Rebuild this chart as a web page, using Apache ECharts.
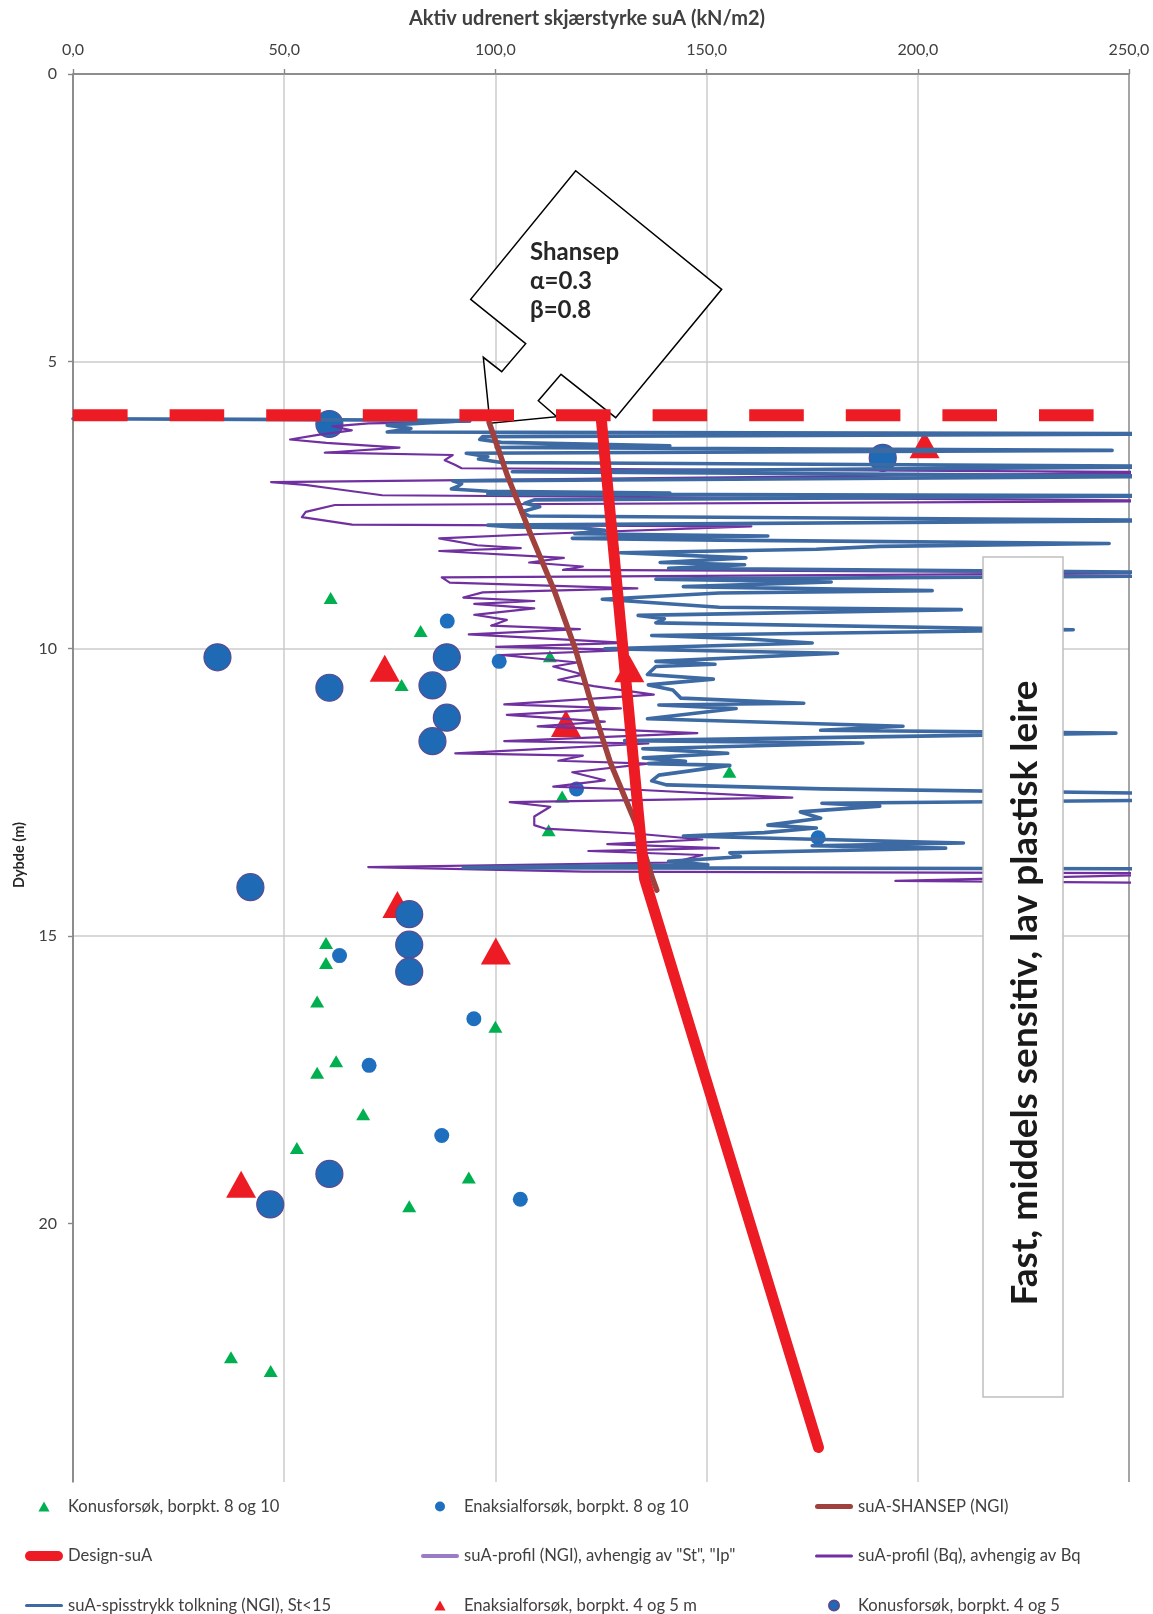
<!DOCTYPE html>
<html>
<head>
<meta charset="utf-8">
<script src="https://cdn.jsdelivr.net/npm/echarts@6/dist/echarts.min.js"></script>
<style>
  html, body { margin: 0; padding: 0; background: #ffffff; }
  #chart { width: 1153px; height: 1614px; }
</style>
</head>
<body>
<div id="chart"></div>
<script>
// Tick labels
const xTickLabels = [0, 50, 100, 150, 200, 250];
const yTickLabels = [0, 5, 10, 15, 20];

// Series names (legend text)
const NAME_KONUS_810 = 'Konusforsøk, borpkt. 8 og 10';
const NAME_ENAKS_810 = 'Enaksialforsøk, borpkt. 8 og 10';
const NAME_SHANSEP = 'suA-SHANSEP (NGI)';
const NAME_DESIGN = 'Design-suA';
const NAME_PROFIL_ST_IP = 'suA-profil (NGI), avhengig av "St", "Ip"';
const NAME_PROFIL_BQ = 'suA-profil (Bq), avhengig av Bq';
const NAME_SPISS = 'suA-spisstrykk tolkning (NGI), St<15';
const NAME_ENAKS_45 = 'Enaksialforsøk, borpkt. 4 og 5 m';
const NAME_KONUS_45 = 'Konusforsøk, borpkt. 4 og 5';

// [suA (kN/m2), depth (m)]
const konus810 = [[61.0, 9.12], [82.3, 9.69], [112.9, 10.13], [77.8, 10.63], [155.4, 12.14],
  [115.8, 12.57], [112.6, 13.16], [59.9, 15.12], [59.9, 15.47], [57.8, 16.14], [100.0, 16.58],
  [62.3, 17.18], [57.8, 17.38], [68.7, 18.1], [53.0, 18.69], [93.7, 19.2], [79.6, 19.7],
  [37.4, 22.33], [46.8, 22.57]];

const enaks810 = [[88.6, 9.52], [100.9, 10.22], [119.2, 12.44], [176.4, 13.29], [63.1, 15.34],
  [94.9, 16.44], [70.1, 17.25], [87.3, 18.47], [105.9, 19.58]];

const enaks45 = [[201.6, 6.45], [73.8, 10.34], [131.7, 10.35], [116.7, 11.3], [76.8, 14.45],
  [100.1, 15.26], [39.8, 19.32]];

const konus45 = [[60.7, 6.09], [191.7, 6.68], [34.2, 10.15], [88.5, 10.15], [60.7, 10.68],
  [85.1, 10.64], [88.5, 11.2], [85.1, 11.61], [42.0, 14.15], [79.6, 14.62], [79.6, 15.15],
  [79.6, 15.62], [60.7, 19.14], [46.7, 19.67]];

const shansep = [[98.5, 6.06], [102.9, 7.0], [108.3, 8.0], [114.0, 9.0], [118.9, 10.0],
  [122.9, 11.0], [127.3, 12.0], [133.0, 13.0], [137.2, 14.0], [138.2, 14.2]];

const designSuA = [[125.0, 5.95], [135.3, 14.0], [176.5, 23.9]];

// excavation level, drawn dashed in the Design-suA style
const designLevel = [[0, 5.94], [253, 5.94]];

const profilStIp = [];

const profilBq = [[94, 6.05], [70, 6.08], [61.4, 6.13], [66, 6.2], [58, 6.28], [51.4, 6.36],
  [60, 6.42], [77.3, 6.5], [59.6, 6.59], [89.9, 6.63], [88, 6.72], [90.4, 6.8], [92, 6.86],
  [270, 6.93], [46.9, 7.1], [55, 7.15], [60, 7.2], [73.2, 7.33], [270, 7.43], [62, 7.5],
  [55.1, 7.62], [54.2, 7.71], [66.1, 7.84], [160.6, 7.87], [111.7, 8.0], [86.7, 8.08],
  [95.7, 8.2], [106, 8.25], [86.7, 8.3], [116.2, 8.42], [108, 8.5], [120.7, 8.57], [116, 8.63],
  [270, 8.68], [179.3, 8.72], [87.3, 8.76], [89.2, 8.85], [133.6, 8.95], [97, 9.02], [92.4, 9.11],
  [109.2, 9.17], [95, 9.22], [109.2, 9.3], [95, 9.41], [102.7, 9.5], [99, 9.6], [120, 9.66],
  [93.7, 9.75], [131, 9.9], [100.2, 9.97], [132.3, 10.02], [101.4, 10.11], [119.4, 10.24],
  [113.7, 10.31], [120.7, 10.45], [114.9, 10.54], [123.3, 10.65], [137.5, 10.8], [102.1, 10.97],
  [129.7, 11.04], [102.7, 11.15], [125.9, 11.27], [110, 11.35], [147.8, 11.47], [102.1, 11.61],
  [136.2, 11.65], [90.5, 11.82], [120.7, 11.86], [114.9, 11.95], [136.2, 12.0], [118.2, 12.15],
  [125.9, 12.29], [113.7, 12.4], [132.3, 12.45], [170.3, 12.59], [103.4, 12.67], [113, 12.75],
  [109.2, 12.92], [109.2, 13.07], [111.7, 13.13], [133.6, 13.22], [149, 13.32], [126.5, 13.4],
  [152.9, 13.47], [122, 13.52], [149, 13.59], [142, 13.72], [69.9, 13.8], [120.7, 13.88],
  [270, 13.91], [194.7, 14.04], [270, 14.08]];

const spisstrykk = [[0, 6.0], [42, 6.01], [94, 6.03], [74.4, 6.11], [80, 6.17], [74.4, 6.23],
  [270, 6.26], [97, 6.31], [96.3, 6.36], [101.4, 6.41], [141.3, 6.47], [100.2, 6.5], [246, 6.55],
  [93.1, 6.6], [98.2, 6.66], [96, 6.7], [101.4, 6.76], [270, 6.83], [104, 6.92], [270, 7.0],
  [89.9, 7.08], [92, 7.13], [91.2, 7.17], [89.6, 7.22], [98.2, 7.26], [141.3, 7.29], [98.2, 7.31],
  [270, 7.34], [109.2, 7.41], [107, 7.47], [110.5, 7.53], [106, 7.62], [108, 7.69], [270, 7.77],
  [98.2, 7.85], [104, 7.88], [120.7, 7.9], [125.9, 7.94], [118.8, 8.0], [164.5, 8.04], [118.2, 8.08],
  [152.9, 8.11], [245.3, 8.17], [191, 8.22], [176, 8.27], [129.6, 8.33], [159.3, 8.42], [139, 8.5],
  [159, 8.54], [141, 8.6], [270, 8.68], [270, 8.73], [138, 8.79], [179.5, 8.84], [144.5, 8.92],
  [203.4, 8.99], [153, 9.03], [125.3, 9.14], [153, 9.28], [210.3, 9.32], [133.8, 9.42], [140, 9.48],
  [138, 9.55], [236.8, 9.67], [137, 9.77], [160, 9.83], [175, 9.9], [125.9, 10.0], [181, 10.08],
  [138, 10.22], [152, 10.27], [138, 10.31], [136, 10.45], [151.6, 10.53], [136.2, 10.63],
  [142, 10.72], [143.9, 10.86], [173, 10.95], [138.7, 10.98], [157, 11.04], [136, 11.22],
  [196.5, 11.35], [177, 11.42], [246.9, 11.47], [130.6, 11.6], [187, 11.64], [134.9, 11.74],
  [155, 11.82], [135, 11.9], [145, 11.96], [136.2, 12.0], [155.5, 12.03], [138.7, 12.2],
  [137, 12.3], [140.6, 12.37], [177.4, 12.44], [270, 12.53], [270, 12.63], [177.3, 12.69],
  [191, 12.74], [172.2, 12.84], [177, 12.95], [164.5, 13.07], [176, 13.12], [163.6, 13.2],
  [144.5, 13.26], [210.8, 13.38], [175, 13.43], [206.6, 13.47], [155.5, 13.55], [158, 13.62],
  [141, 13.7], [150.3, 13.76], [92.4, 13.81], [270, 13.83], [270, 13.87]];

const FONT = 'Lato, "Noto Sans", sans-serif';
const GRID_DARK = '#878787';
const GRID_LIGHT = '#cbcbcb';
const gridColors = [GRID_DARK, GRID_LIGHT, GRID_LIGHT, GRID_LIGHT, GRID_LIGHT];

// legend icon for a line series: a bar of thickness t with rounded ends, 38 px long
function barIcon(t) {
  const r = t / 2, L = 38;
  return 'path://M' + r + ',0 L' + (L - r) + ',0 A' + r + ',' + r + ' 0 0 1 ' + (L - r) + ',' + t +
    ' L' + r + ',' + t + ' A' + r + ',' + r + ' 0 0 1 ' + r + ',0 Z';
}
// small upright triangle legend icon
const TRIANGLE_ICON = 'path://M5,0 L10,9 L0,9 Z';

const chart = echarts.init(document.getElementById('chart'), null, { renderer: 'canvas' });

const lineSeries = (name, data, color, width, extra) => Object.assign({
  name, type: 'line', data, symbol: 'none', showSymbol: false, smooth: false,
  lineStyle: { color, width, cap: 'round', join: 'round' },
  itemStyle: { color, borderWidth: 0 },
  emphasis: { disabled: true }
}, extra || {});

const scatterSeries = (name, data, symbol, size, itemStyle) => ({
  name, type: 'scatter', data, symbol, symbolSize: size,
  itemStyle: Object.assign({ opacity: 1 }, itemStyle),
  emphasis: { disabled: true }
});

const legendBase = {
  type: 'plain', orient: 'vertical', top: 1498, padding: 0, itemGap: 32.5,
  itemWidth: 38, itemHeight: 10, symbolKeepAspect: true,
  textStyle: { fontFamily: FONT, fontSize: 16.6, color: '#404040', lineHeight: 16 }
};

chart.setOption({
  animation: false,
  backgroundColor: '#ffffff',
  textStyle: { fontFamily: FONT },
  grid: { left: 73, right: 24, top: 74, bottom: 132, containLabel: false },
  xAxis: {
    type: 'value', position: 'top', min: 0, max: 250, interval: 10,
    name: 'Aktiv udrenert skjærstyrke suA (kN/m2)', nameLocation: 'middle', nameGap: 45,
    nameTextStyle: {
      fontFamily: FONT, fontSize: 20, fontWeight: 'bold', color: '#404040', padding: [0, 28, 0, 0]
    },
    axisLine: { show: true, lineStyle: { color: GRID_DARK, width: 1.6 } },
    axisTick: { show: true, customValues: xTickLabels, length: 5, lineStyle: { color: GRID_DARK, width: 1.4 } },
    axisLabel: {
      customValues: xTickLabels, margin: 16, fontFamily: FONT, fontSize: 16, color: '#404040',
      formatter: v => v.toFixed(1).replace('.', ',')
    },
    splitLine: { show: true, lineStyle: { color: gridColors, width: 1.5 } }
  },
  yAxis: {
    type: 'value', inverse: true, min: 0, max: 24.5, interval: 1,
    axisLine: { show: true, lineStyle: { color: GRID_DARK, width: 1.6 } },
    axisTick: { show: true, customValues: yTickLabels, length: 5, lineStyle: { color: GRID_DARK, width: 1.4 } },
    axisLabel: { customValues: yTickLabels, margin: 16, fontFamily: FONT, fontSize: 16, color: '#404040' },
    splitLine: { show: true, showMaxLine: false, lineStyle: { color: gridColors, width: 1.5 } }
  },
  legend: [
    Object.assign({ left: 25, data: [
      { name: NAME_KONUS_810, icon: TRIANGLE_ICON },
      { name: NAME_DESIGN, icon: barIcon(10) },
      { name: NAME_SPISS, icon: barIcon(3) }
    ] }, legendBase),
    Object.assign({ left: 421, data: [
      { name: NAME_ENAKS_810, icon: 'circle' },
      { name: NAME_PROFIL_ST_IP, icon: barIcon(4) },
      { name: NAME_ENAKS_45, icon: TRIANGLE_ICON }
    ] }, legendBase),
    Object.assign({ left: 815, data: [
      { name: NAME_SHANSEP, icon: barIcon(5) },
      { name: NAME_PROFIL_BQ, icon: barIcon(3) },
      { name: NAME_KONUS_45, icon: 'circle' }
    ] }, legendBase)
  ],
  series: [
    lineSeries(NAME_PROFIL_ST_IP, profilStIp, '#9a7cc6', 3.5),
    lineSeries(NAME_PROFIL_BQ, profilBq, '#7030a0', 2.2),
    lineSeries(NAME_SPISS, spisstrykk, '#3e6aa3', 3.6),
    lineSeries(NAME_SHANSEP, shansep, '#a0413d', 5.5),
    lineSeries(NAME_DESIGN, designSuA, '#ed1c24', 11),
    lineSeries(NAME_DESIGN, designLevel, '#ed1c24', 12, {
      clip: false,
      lineStyle: { color: '#ed1c24', width: 12, type: [54.6, 42], cap: 'butt' }
    }),
    scatterSeries(NAME_KONUS_810, konus810, 'triangle', [14, 12], { color: '#00b050' }),
    scatterSeries(NAME_ENAKS_810, enaks810, 'circle', 15, { color: '#1f6fbf' }),
    scatterSeries(NAME_ENAKS_45, enaks45, 'triangle', [30, 27], { color: '#ed1c24' }),
    scatterSeries(NAME_KONUS_45, konus45, 'circle', 27,
      { color: '#1f6ab5', borderColor: '#5a4a90', borderWidth: 1.2 })
  ],
  graphic: [
    {
      // depth axis title
      type: 'text', x: 19, y: 855, rotation: Math.PI / 2, z: 5,
      style: {
        text: 'Dybde (m)', fontFamily: FONT, fontSize: 14.5, fontWeight: 'bold', fill: '#262626',
        align: 'center', verticalAlign: 'middle'
      }
    },
    {
      // SHANSEP callout
      type: 'group', z: 1,
      children: [
        {
          type: 'polygon', z: 1,
          shape: { points: [[470.7, 299.3], [525.7, 343.7], [501.7, 371.7], [483.3, 357.3], [490, 423.3],
            [556.7, 416.7], [538.3, 400.7], [561, 374.3], [615.7, 417.7], [721.7, 289.3], [575.7, 170.7]] },
          style: { fill: '#ffffff', stroke: '#000000', lineWidth: 1.5 }
        },
        {
          type: 'text', z: 1, x: 530, y: 238,
          style: {
            text: 'Shansep\nα=0.3\nβ=0.8', fontFamily: FONT, fontSize: 24, fontWeight: 'bold',
            lineHeight: 29, fill: '#262626', verticalAlign: 'top'
          }
        }
      ]
    },
    {
      // soil description box
      type: 'group', z: 20,
      children: [
        {
          type: 'rect', z: 20, shape: { x: 983, y: 557, width: 80, height: 840 },
          style: { fill: '#ffffff', stroke: '#bfbfbf', lineWidth: 1.5 }
        },
        {
          type: 'text', z: 21, x: 1025, y: 993, rotation: Math.PI / 2,
          style: {
            text: 'Fast, middels sensitiv, lav plastisk leire', fontFamily: FONT, fontSize: 37,
            fontWeight: 'bold', fill: '#1a1a1a', align: 'center', verticalAlign: 'middle'
          }
        }
      ]
    }
  ]
});
</script>
</body>
</html>
